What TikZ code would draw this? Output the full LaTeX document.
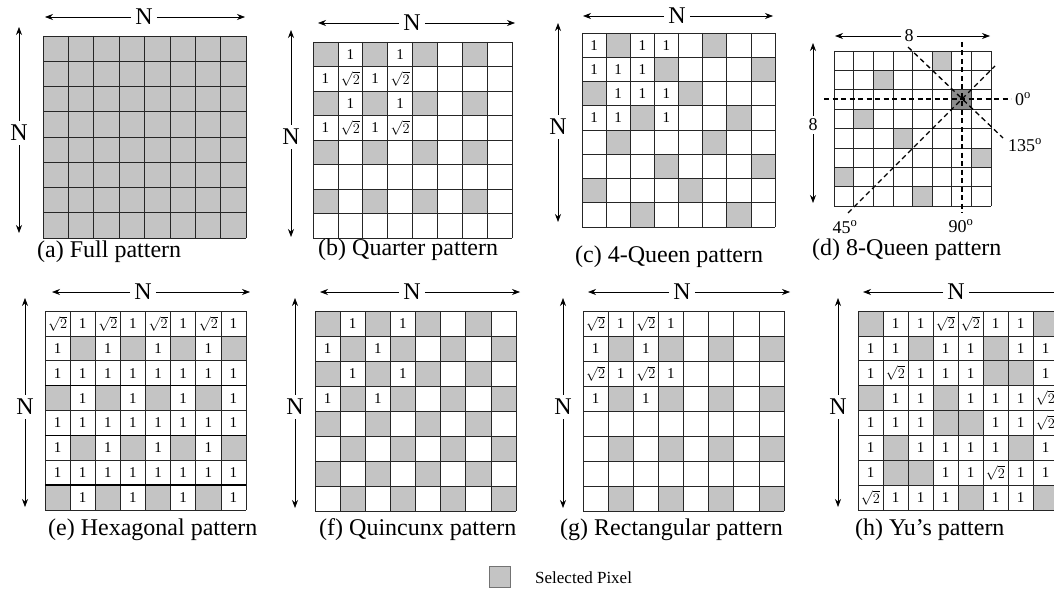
\documentclass[tikz,border=0pt]{standalone}
\usepackage{fontspec}
\setmainfont{Liberation Serif}
\usetikzlibrary{arrows.meta}
\definecolor{selgray}{RGB}{196,196,196}
\definecolor{dselgray}{RGB}{140,140,140}
\tikzset{
 sel/.style={fill=selgray},
 dsel/.style={fill=dselgray},
 gridline/.style={draw=black!85, line width=0.75pt},
 num/.style={font=\fontsize{15}{15}\selectfont, inner sep=0pt},
 lab/.style={font=\fontsize{24}{24}\selectfont, inner sep=4pt},
 small/.style={font=\fontsize{18}{18}\selectfont, inner sep=3pt},
 capt/.style={font=\fontsize{24}{24}\selectfont, anchor=west, inner sep=0pt},
 legtext/.style={font=\fontsize{17}{17}\selectfont, anchor=west, inner sep=0pt},
 dimarr/.style={draw, line width=0.7pt, -{Stealth[length=8pt,width=6pt]}},
 dline/.style={draw, line width=1.3pt, dash pattern=on 5pt off 3.5pt},
}
\newcommand\rtwo{$\sqrt{2}$}
\def\tokg{g}\def\tokone{1}\def\tokr{r}\def\tokd{d}
\newcommand\cellput[4]{%
  \edef\tokc{#4}%
  \ifx\tokc\tokg \fill[sel] (#2,#3) rectangle ++(1,1);\fi
  \ifx\tokc\tokd \fill[dsel] (#2,#3) rectangle ++(1,1);\fi
  \ifx\tokc\tokone \node[num] (#1-#3-#2) at (#2+.5,#3+.5) {1};\fi
  \ifx\tokc\tokr \node[num] (#1-#3-#2) at (#2+.5,#3+.5) {\rtwo};\fi
}
\newcommand\pgridpanel[6]{%
\begin{scope}[shift={(#2,#3)}, x=#4pt/8, y=-#5pt/8]
 \foreach \row [count=\r from 0] in {#6} {
   \foreach \v [count=\c from 0] in \row { \cellput{#1}{\c}{\r}{\v} }
 }
 \foreach \i in {0,...,8} { \draw[gridline] (\i,0) -- (\i,8); \draw[gridline] (0,\i) -- (8,\i); }
\end{scope}}
\newcommand\dimarrows[9]{%
 \node[lab] (#1-nh) at (#5,#2) {N};
 \coordinate (#1-hl) at (#3,#2);
 \coordinate (#1-hr) at (#4,#2);
 \draw[dimarr] (#1-nh) -- (#1-hl);
 \draw[dimarr] (#1-nh) -- (#1-hr);
 \node[lab] (#1-nv) at (#6,#9) {N};
 \coordinate (#1-vt) at (#6,#7);
 \coordinate (#1-vb) at (#6,#8);
 \draw[dimarr] (#1-nv) -- (#1-vt);
 \draw[dimarr] (#1-nv) -- (#1-vb);
}
\begin{document}
\begin{tikzpicture}[x=1pt,y=-1pt]
\useasboundingbox (0,0) rectangle (1054,591);
\fill[white] (0,0) rectangle (1054,591);

% (a) Full pattern
\pgridpanel{a}{43}{36}{203}{202}{{g,g,g,g,g,g,g,g},{g,g,g,g,g,g,g,g},{g,g,g,g,g,g,g,g},{g,g,g,g,g,g,g,g},{g,g,g,g,g,g,g,g},{g,g,g,g,g,g,g,g},{g,g,g,g,g,g,g,g},{g,g,g,g,g,g,g,g}}
\dimarrows{a}{17}{45}{245}{144}{19}{27}{233}{133}
\node[capt] (a-cap) at (37,252) {(a) Full pattern};

% (b) Quarter pattern
\pgridpanel{b}{313}{42}{199}{196}{{g,1,g,1,g,e,g,e},{1,r,1,r,e,e,e,e},{g,1,g,1,g,e,g,e},{1,r,1,r,e,e,e,e},{g,e,g,e,g,e,g,e},{e,e,e,e,e,e,e,e},{g,e,g,e,g,e,g,e},{e,e,e,e,e,e,e,e}}
\dimarrows{b}{23}{318}{515}{412}{291}{30}{237}{137}
\node[capt] (b-cap) at (318,250) {(b) Quarter pattern};

% (c) 4-Queen pattern
\pgridpanel{c}{582}{33}{193}{194}{{1,g,1,1,e,g,e,e},{1,1,1,g,e,e,e,g},{g,1,1,1,g,e,e,e},{1,1,g,1,e,e,g,e},{e,g,e,e,e,g,e,e},{e,e,e,g,e,e,e,g},{g,e,e,e,g,e,e,e},{e,e,g,e,e,e,g,e}}
\dimarrows{c}{16}{583}{773}{677}{558}{23}{222}{127}
\node[capt] (c-cap) at (575,257) {(c) 4-Queen pattern};

% (d) 8-Queen pattern
\pgridpanel{d}{834}{51}{157}{155}{{e,e,e,e,e,g,e,e},{e,e,g,e,e,e,e,e},{e,e,e,e,e,e,d,e},{e,g,e,e,e,e,e,e},{e,e,e,g,e,e,e,e},{e,e,e,e,e,e,e,g},{g,e,e,e,e,e,e,e},{e,e,e,e,g,e,e,e}}
\node[small] (d-nh) at (909,36) {8};
\coordinate (d-hl) at (835,36);
\coordinate (d-hr) at (990,36);
\draw[dimarr] (d-nh) -- (d-hl);
\draw[dimarr] (d-nh) -- (d-hr);
\node[small] (d-nv) at (813,125) {8};
\coordinate (d-vt) at (813,43);
\coordinate (d-vb) at (813,203);
\draw[dimarr] (d-nv) -- (d-vt);
\draw[dimarr] (d-nv) -- (d-vb);
\coordinate (d-0a) at (824,99);
\coordinate (d-0b) at (1011,99);
\coordinate (d-90a) at (962,42);
\coordinate (d-90b) at (962,213);
\coordinate (d-45a) at (848,213);
\coordinate (d-45b) at (995,66);
\coordinate (d-135a) at (908,47);
\coordinate (d-135b) at (1003,138);
\draw[dline] (d-0a) -- (d-0b);
\draw[dline] (d-90a) -- (d-90b);
\draw[dline] (d-45a) -- (d-45b);
\draw[dline] (d-135a) -- (d-135b);
\node[small, anchor=west] (d-l0) at (1012,99) {0\textsuperscript{o}};
\node[small] (d-l135) at (1025,145) {135\textsuperscript{o}};
\node[small] (d-l90) at (961,226) {90\textsuperscript{o}};
\node[small] (d-l45) at (845,227) {45\textsuperscript{o}};
\node[capt] (d-cap) at (812,250) {(d) 8-Queen pattern};

% (e) Hexagonal pattern
\pgridpanel{e}{45}{311}{201}{199}{{r,1,r,1,r,1,r,1},{1,g,1,g,1,g,1,g},{1,1,1,1,1,1,1,1},{g,1,g,1,g,1,g,1},{1,1,1,1,1,1,1,1},{1,g,1,g,1,g,1,g},{1,1,1,1,1,1,1,1},{g,1,g,1,g,1,g,1}}
\draw[line width=1.5pt] (45,385.6) -- (246,385.6);
\draw[line width=1.5pt] (45,435.4) -- (246,435.4);
\draw[line width=1.5pt] (45,485.1) -- (246,485.1);
\dimarrows{e}{292}{52}{250}{143}{25}{298}{507}{407}
\node[capt] (e-cap) at (48,530) {(e) Hexagonal pattern};

% (f) Quincunx pattern
\pgridpanel{f}{315}{311}{201}{200}{{g,1,g,1,g,e,g,e},{1,g,1,g,e,g,e,g},{g,1,g,1,g,e,g,e},{1,g,1,g,e,g,e,g},{g,e,g,e,g,e,g,e},{e,g,e,g,e,g,e,g},{g,e,g,e,g,e,g,e},{e,g,e,g,e,g,e,g}}
\dimarrows{f}{292}{320}{520}{412}{295}{298}{508}{407}
\node[capt] (f-cap) at (319,530) {(f) Quincunx pattern};

% (g) Rectangular pattern
\pgridpanel{g}{583}{311}{201}{200}{{r,1,r,1,e,e,e,e},{1,g,1,g,e,g,e,g},{r,1,r,1,e,e,e,e},{1,g,1,g,e,g,e,g},{e,e,e,e,e,e,e,e},{e,g,e,g,e,g,e,g},{e,e,e,e,e,e,e,e},{e,g,e,g,e,g,e,g}}
\dimarrows{g}{292}{588}{790}{682}{563}{298}{508}{407}
\node[capt] (g-cap) at (560,530) {(g) Rectangular pattern};

% (h) Yu's pattern
\pgridpanel{h}{858}{311}{200}{199}{{g,1,1,r,r,1,1,g},{1,1,g,1,1,g,1,1},{1,r,1,1,1,g,g,1},{g,1,1,g,1,1,1,r},{1,1,1,g,g,1,1,r},{1,g,1,1,1,1,g,1},{1,g,g,1,1,r,1,1},{r,1,1,1,g,1,1,g}}
\dimarrows{h}{292}{863}{1075}{956}{838}{298}{507}{407}
\node[capt] (h-cap) at (855,530) {(h) Yu’s pattern};

% legend
\node[draw=black!55, sel, minimum size=21pt, inner sep=0pt] (leg) at (500,577) {};
\node[legtext] (leg-t) at (535,578) {Selected Pixel};
\end{tikzpicture}
\end{document}
